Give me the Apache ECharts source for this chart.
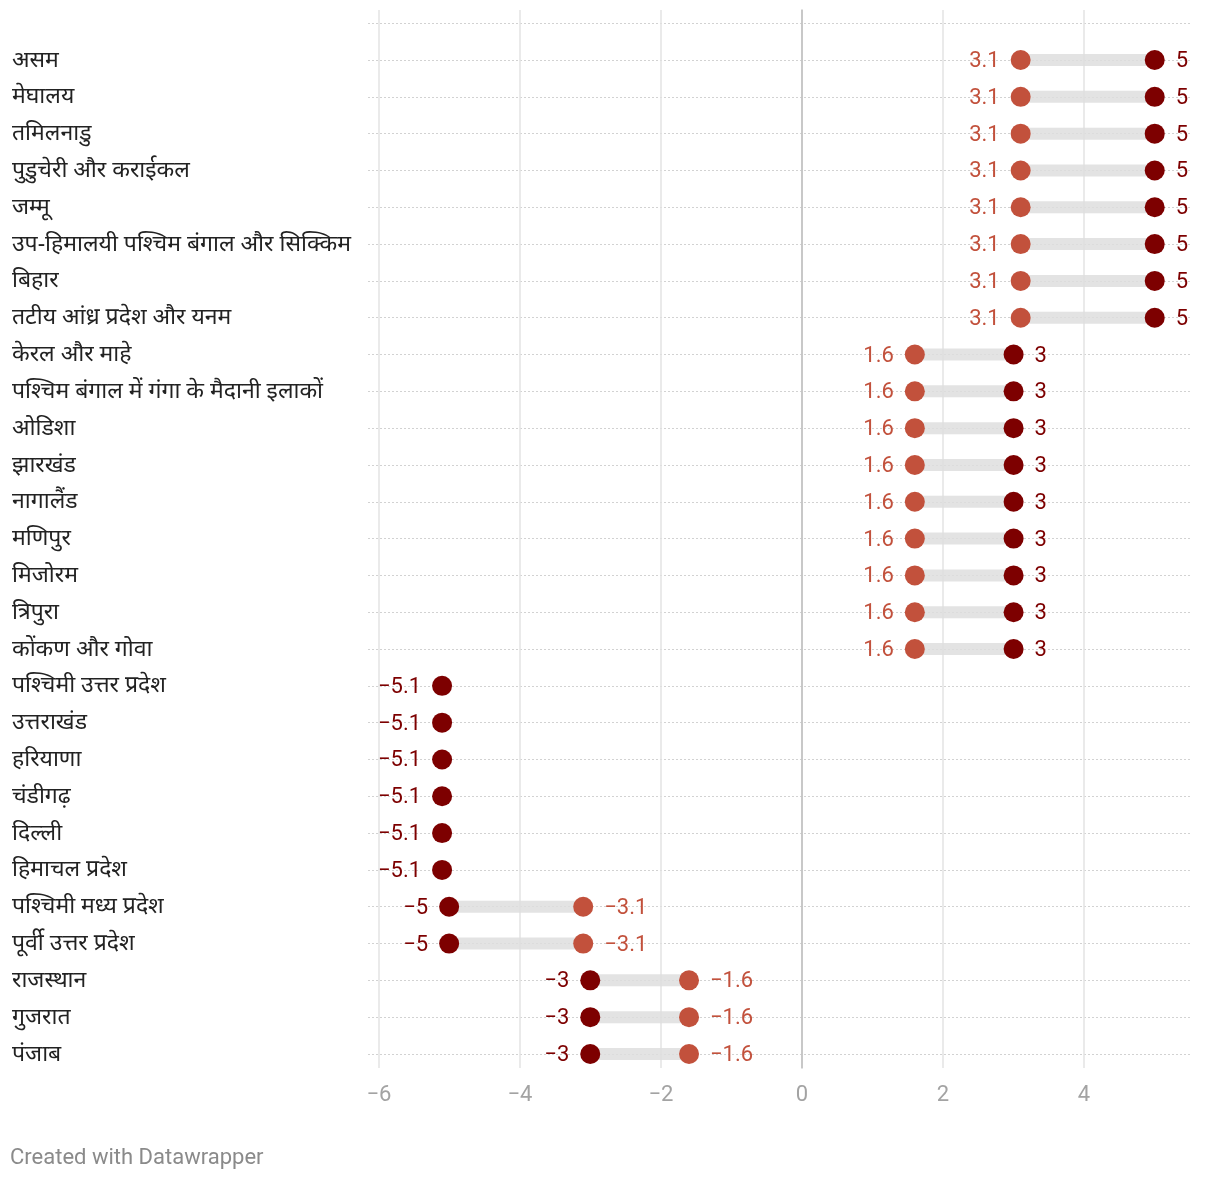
<!DOCTYPE html>
<html>
<head>
<meta charset="utf-8">
<script src="https://cdn.jsdelivr.net/npm/echarts@6/dist/echarts.min.js"></script>
<style>
html,body{margin:0;padding:0;background:#fff;}
#chart{width:1220px;height:1180px;}
</style>
</head>
<body>
<div id="chart"></div>
<script>
const categories = [
  'असम','मेघालय','तमिलनाडु','पुडुचेरी और कराईकल','जम्मू',
  'उप-हिमालयी पश्चिम बंगाल और सिक्किम','बिहार','तटीय आंध्र प्रदेश और यनम',
  'केरल और माहे','पश्चिम बंगाल में गंगा के मैदानी इलाकों','ओडिशा','झारखंड',
  'नागालैंड','मणिपुर','मिजोरम','त्रिपुरा','कोंकण और गोवा',
  'पश्चिमी उत्तर प्रदेश','उत्तराखंड','हरियाणा','चंडीगढ़','दिल्ली','हिमाचल प्रदेश',
  'पश्चिमी मध्य प्रदेश','पूर्वी उत्तर प्रदेश','राजस्थान','गुजरात','पंजाब'
];
const darkValues = [5,5,5,5,5,5,5,5, 3,3,3,3,3,3,3,3,3, -5.1,-5.1,-5.1,-5.1,-5.1,-5.1, -5,-5, -3,-3,-3];
const lightValues = [3.1,3.1,3.1,3.1,3.1,3.1,3.1,3.1, 1.6,1.6,1.6,1.6,1.6,1.6,1.6,1.6,1.6, null,null,null,null,null,null, -3.1,-3.1, -1.6,-1.6,-1.6];

const DARK = '#7d0000';
const LIGHT = '#c2513c';
const fmt = v => (v < 0 ? '\u2212' + Math.abs(v) : String(v));

const barData = [];
const darkData = [];
const lightData = [];
categories.forEach((c, i) => {
  const d = darkValues[i], l = lightValues[i];
  if (l !== null) barData.push([l, d, i]);
  const darkSide = (l === null) ? (d < 0 ? 'left' : 'right') : (d > l ? 'right' : 'left');
  darkData.push({ value: [d, i], label: { position: darkSide } });
  if (l !== null) {
    lightData.push({ value: [l, i], label: { position: darkSide === 'right' ? 'left' : 'right' } });
  }
});

const chart = echarts.init(document.getElementById('chart'), null, { renderer: 'canvas' });
const numFont = 'Roboto, "Noto Sans", sans-serif';

chart.setOption({
  animation: false,
  backgroundColor: '#ffffff',
  title: {
    text: 'Created with Datawrapper',
    left: 10, top: 1147, padding: 0,
    textStyle: { color: '#8a8a8a', fontSize: 22, fontWeight: 'normal', fontFamily: numFont }
  },
  grid: [
    { left: 368, right: 30, top: 23.2, bottom: 126 },
    { left: 379, right: 136, top: 10, bottom: 112 }
  ],
  xAxis: [
    { gridIndex: 0, type: 'value', min: -6.15, max: 5.5, show: false },
    {
      gridIndex: 1, type: 'value', min: -6, max: 4, interval: 2,
      axisLine: { show: false }, axisTick: { show: false },
      splitLine: { show: true, lineStyle: { color: '#e3e3e3', width: 1.5 } },
      axisLabel: { color: '#a3a3a3', fontSize: 22, margin: 16, fontFamily: numFont, formatter: fmt }
    }
  ],
  yAxis: [
    {
      gridIndex: 0, type: 'value', min: -1, max: 27, interval: 1, inverse: true,
      axisLine: { show: false }, axisTick: { show: false },
      splitLine: { show: true, lineStyle: { color: '#d2d2d2', width: 1, type: [2, 2] } },
      axisLabel: {
        align: 'left', margin: 356, color: '#222', fontSize: 23,
        fontFamily: '"Noto Sans", "Noto Sans Devanagari", sans-serif',
        showMinLabel: true, showMaxLabel: true,
        formatter: v => (categories[v] !== undefined ? categories[v] : '')
      }
    },
    {
      gridIndex: 1, type: 'value', min: 0, max: 1,
      axisLine: { show: true, onZero: true, lineStyle: { color: '#bdbdbd', width: 1.5 } },
      axisTick: { show: false }, axisLabel: { show: false }, splitLine: { show: false }
    }
  ],
  series: [
    {
      type: 'custom', xAxisIndex: 0, yAxisIndex: 0, z: 3,
      data: barData,
      encode: { x: [0, 1], y: 2 },
      renderItem: (params, api) => {
        const a = api.value(0), b = api.value(1), y = api.value(2);
        const p1 = api.coord([a, y]), p2 = api.coord([b, y]);
        return {
          type: 'rect',
          shape: { x: Math.min(p1[0], p2[0]), y: p1[1] - 6, width: Math.abs(p2[0] - p1[0]), height: 12 },
          style: { fill: 'rgba(222,222,222,0.85)' }
        };
      }
    },
    {
      type: 'scatter', xAxisIndex: 0, yAxisIndex: 0, z: 4,
      symbolSize: 20, itemStyle: { color: LIGHT, opacity: 1 },
      data: lightData,
      label: {
        show: true, distance: 11, offset: [0, 1.5], color: LIGHT, fontSize: 22, fontFamily: numFont,
        formatter: p => fmt(p.value[0])
      }
    },
    {
      type: 'scatter', xAxisIndex: 0, yAxisIndex: 0, z: 5,
      symbolSize: 20, itemStyle: { color: DARK, opacity: 1 },
      data: darkData,
      label: {
        show: true, distance: 11, offset: [0, 1.5], color: DARK, fontSize: 22, fontFamily: numFont,
        formatter: p => fmt(p.value[0])
      }
    }
  ]
});
</script>
</body>
</html>
